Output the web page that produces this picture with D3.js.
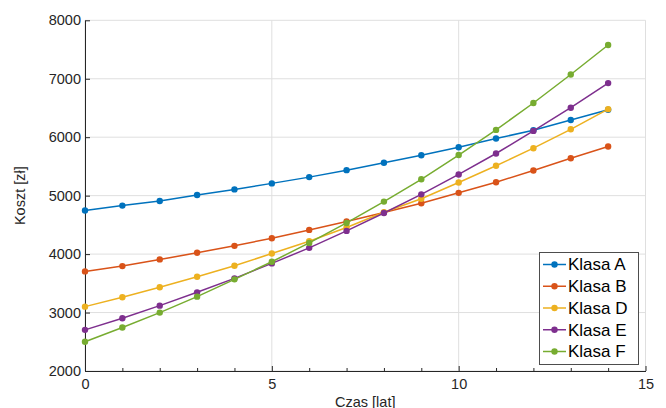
<!DOCTYPE html>
<html><head><meta charset="utf-8">
<script src="https://cdn.jsdelivr.net/npm/d3@7"></script>
<style>body{margin:0;background:#fff}svg{display:block;font-family:"Liberation Sans",Arial,sans-serif}</style>
</head><body><svg id="c" width="666" height="408"></svg>
<script>
const years = [0,1,2,3,4,5,6,7,8,9,10,11,12,13,14];
const seriesNames = ["Klasa A","Klasa B","Klasa D","Klasa E","Klasa F"];
const klasaA = [4745,4830,4908,5010,5107,5210,5317,5436,5562,5692,5828,5977,6119,6295,6470];
const klasaB = [3704,3795,3909,4022,4141,4272,4414,4557,4710,4869,5048,5230,5430,5641,5840];
const klasaD = [3101,3261,3432,3612,3800,4011,4221,4454,4715,4948,5225,5511,5812,6135,6480];
const klasaE = [2704,2903,3118,3346,3585,3841,4107,4397,4704,5022,5363,5721,6108,6505,6926];
const klasaF = [2500,2743,2999,3272,3568,3869,4192,4533,4898,5280,5695,6125,6585,7073,7578];
const colors = ["#0072BD","#D95319","#EDB120","#7E2F8E","#77AC30"];
const xTicks = [0,5,10,15];
const xMinor = [1,2,3,4,6,7,8,9,11,12,13,14];
const yTicks = [2000,3000,4000,5000,6000,7000,8000];
const xLabel = "Czas [lat]", yLabel = "Koszt [zł]";
const allSeries = [klasaA,klasaB,klasaD,klasaE,klasaF];

const svg = d3.select("#c");
const L=85, R=645.5, T=20.3, B=371;
const x = d3.scaleLinear().domain([0,15]).range([L,R]);
const y = d3.scaleLinear().domain([2000,8000]).range([B,T]);
const ink="#262626";

// grid
const g = svg.append("g");
g.selectAll(".gx").data(xTicks).join("line").attr("x1",d=>x(d)).attr("x2",d=>x(d)).attr("y1",T).attr("y2",B).attr("stroke","#dfdfdf").attr("stroke-width",1);
g.selectAll(".gy").data(yTicks).join("line").attr("x1",L).attr("x2",R).attr("y1",d=>y(d)).attr("y2",d=>y(d)).attr("stroke","#dfdfdf").attr("stroke-width",1);

// axes
const xAx = svg.append("g").attr("transform",`translate(0,${B})`)
  .call(d3.axisBottom(x).tickValues(xTicks).tickSizeInner(-5).tickSizeOuter(0).tickPadding(8).tickFormat(d3.format("d")));
const xAxm = svg.append("g").attr("transform",`translate(0,${B})`)
  .call(d3.axisBottom(x).tickValues(xMinor).tickSizeInner(-3).tickSizeOuter(0).tickFormat(""));
xAxm.select(".domain").remove();
const yAx = svg.append("g").attr("transform",`translate(${L},0)`)
  .call(d3.axisLeft(y).tickValues(yTicks).tickSizeInner(-5).tickSizeOuter(0).tickPadding(4).tickFormat(d3.format("d")));
[xAx,xAxm,yAx].forEach(a=>{a.selectAll("path,line").attr("stroke",ink).attr("stroke-width",1);a.selectAll("text").attr("fill",ink).attr("font-size",14.5).attr("font-family","Liberation Sans, Arial, sans-serif");});

svg.append("text").attr("x",(L+R)/2).attr("y",406.5).attr("text-anchor","middle").attr("fill",ink).attr("font-size",14.5).text(xLabel);
svg.append("text").attr("transform",`translate(24.5,${(T+B)/2}) rotate(-90)`).attr("text-anchor","middle").attr("fill",ink).attr("font-size",14.5).text(yLabel);

// series
const line = d3.line().x((d,i)=>x(years[i])).y(d=>y(d));
allSeries.forEach((s,k)=>{
  const sg = svg.append("g");
  sg.append("path").datum(s).attr("d",line).attr("fill","none").attr("stroke",colors[k]).attr("stroke-width",1.5);
  sg.selectAll("circle").data(s).join("circle").attr("cx",(d,i)=>x(years[i])).attr("cy",d=>y(d)).attr("r",3.2).attr("fill",colors[k]);
});

// legend
const lg = svg.append("g");
lg.append("rect").attr("x",539.5).attr("y",252.5).attr("width",99).attr("height",112).attr("fill","#fff").attr("stroke","#4d4d4d").attr("stroke-width",1);
const ly = d3.scalePoint().domain(seriesNames).range([264.5,351.5]);
seriesNames.forEach((n,k)=>{
  lg.append("line").attr("x1",543).attr("x2",566).attr("y1",ly(n)).attr("y2",ly(n)).attr("stroke",colors[k]).attr("stroke-width",1.5);
  lg.append("circle").attr("cx",554.5).attr("cy",ly(n)).attr("r",3.2).attr("fill",colors[k]);
  lg.append("text").attr("x",568).attr("y",ly(n)).attr("dy","0.35em").attr("font-size",17).attr("fill","#000").text(n);
});
</script></body></html>
